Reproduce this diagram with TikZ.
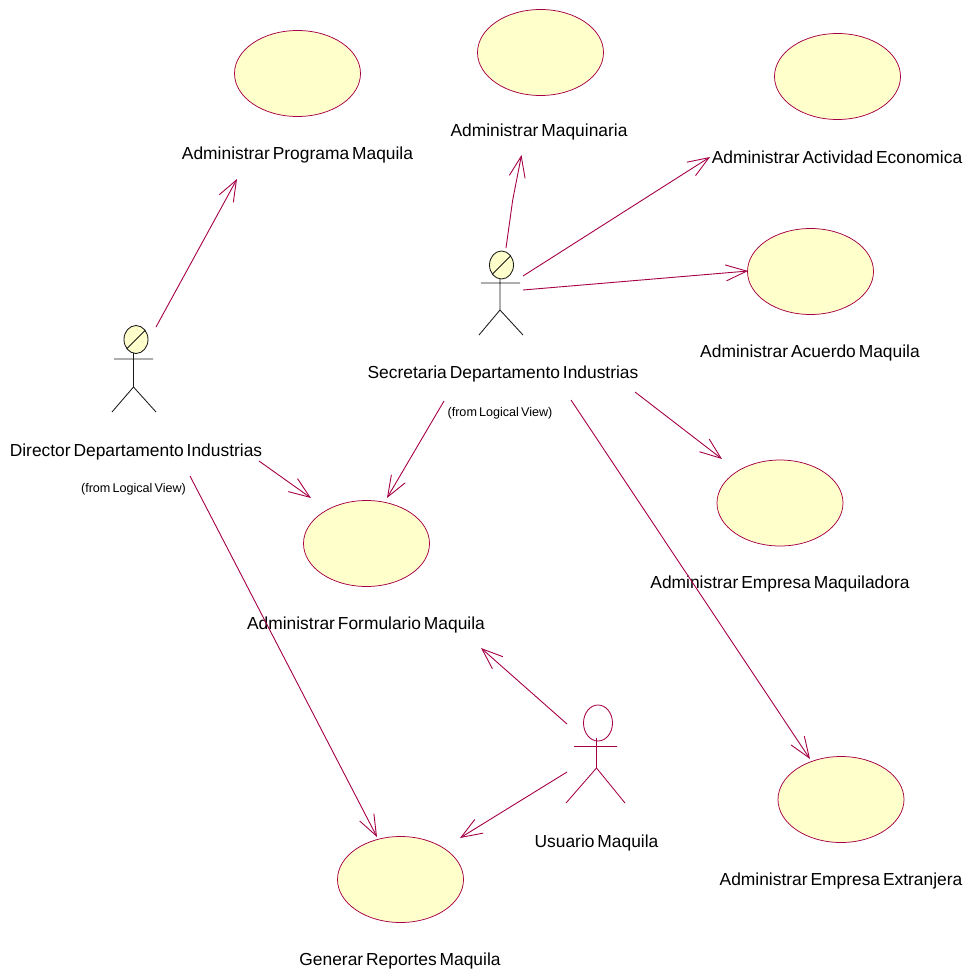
\documentclass[tikz,border=0pt]{standalone}
\usepackage{fontspec}
\setmainfont[WordSpace=0.6]{Liberation Sans}
\usetikzlibrary{arrows.meta,shapes.geometric}
\definecolor{conn}{RGB}{165,0,70}
\definecolor{fillc}{RGB}{255,255,204}
\definecolor{inkc}{RGB}{25,25,25}
\tikzset{
  usecase/.style={ellipse,draw=conn,fill=fillc,line width=0.75pt,minimum width=126bp,minimum height=86bp,inner sep=0pt},
  lbl/.style={font=\fontsize{17.4bp}{19bp}\selectfont,text=black,inner sep=0pt,anchor=center},
  small/.style={font=\fontsize{12.6bp}{14bp}\selectfont,text=black,inner sep=0pt,anchor=center},
  assoc/.style={draw=conn,line width=0.9pt,-{Straight Barb[length=21bp,width=16bp,line width=0.9pt]}},
  actorline/.style={draw=inkc,line width=0.85pt},
  actorlineU/.style={draw=conn,line width=0.85pt},
  actorhead/.style={ellipse,draw=inkc,fill=fillc,line width=0.85pt,minimum width=24bp,minimum height=28bp,inner sep=0pt},
}
\begin{document}
\begin{tikzpicture}[x=1bp,y=-1bp]
\useasboundingbox (0,0) rectangle (965,971);
\node[usecase] (uProg) at (297.5,73.5) {};
\node[usecase] (uMaq) at (540.5,52.5) {};
\node[usecase] (uAct) at (837.5,76.5) {};
\node[usecase] (uAcu) at (810.5,271.5) {};
\node[usecase] (uEmp) at (780,503) {};
\node[usecase] (uFor) at (366.5,543.5) {};
\node[usecase] (uExt) at (841,799.5) {};
\node[usecase] (uRep) at (400.5,879.5) {};
\node[lbl] (tProg) at (297.5,155) {Administrar Programa Maquila};
\node[lbl] (tMaq) at (539,132) {Administrar Maquinaria};
\node[lbl] (tAct) at (837,157) {Administrar Actividad Economica};
\node[lbl] (tAcu) at (810,353) {Administrar Acuerdo Maquila};
\node[lbl] (tEmp) at (780,584) {Administrar Empresa Maquiladora};
\node[lbl] (tFor) at (366,625) {Administrar Formulario Maquila};
\node[lbl] (tExt) at (841,881) {Administrar Empresa Extranjera};
\node[lbl] (tRep) at (400,961) {Generar Reportes Maquila};
\node[lbl] (tUsu) at (596.5,842.5) {Usuario Maquila};
\node[lbl] (tSec) at (503,374) {Secretaria Departamento Industrias};
\node[lbl] (tDir) at (136,452) {Director Departamento Industrias};
\node[small] (fSec) at (500,413.5) {(from Logical View)};
\node[small] (fDir) at (133.5,489.5) {(from Logical View)};
% Director actor
\node[actorhead] (hDir) at (136,339.5) {};
\draw[actorline] (hDir.225) -- (hDir.45);
\coordinate (dNeck) at (133.5,353); \coordinate (dHip) at (133.5,387);
\coordinate (dAl) at (114,359); \coordinate (dAr) at (153,359);
\coordinate (dLl) at (112,412); \coordinate (dLr) at (156,412);
\draw[actorline] (dNeck) -- (dHip) (dAl) -- (dAr) (dLl) -- (dHip) -- (dLr);
% Secretaria actor
\node[actorhead] (hSec) at (501.5,265) {};
\draw[actorline] (hSec.225) -- (hSec.45);
\coordinate (sNeck) at (500,279); \coordinate (sHip) at (500,310);
\coordinate (sAl) at (481,283); \coordinate (sAr) at (520,283);
\coordinate (sLl) at (479,335); \coordinate (sLr) at (523,335);
\draw[actorline] (sNeck) -- (sHip) (sAl) -- (sAr) (sLl) -- (sHip) -- (sLr);
% Usuario actor
\node[ellipse,draw=conn,line width=0.85pt,minimum width=29bp,minimum height=36bp,inner sep=0pt] (hUsu) at (598,723) {};
\coordinate (uNeck) at (596.5,738); \coordinate (uHip) at (596.5,768);
\coordinate (uAl) at (574,746.5); \coordinate (uAr) at (617,746.5);
\coordinate (uLl) at (566,803); \coordinate (uLr) at (625,803);
\draw[actorlineU] (uNeck) -- (uHip) (uAl) -- (uAr) (uLl) -- (uHip) -- (uLr);
% connector ends
\coordinate (a1) at (156,327); \coordinate (b1) at (237,179);
\coordinate (a2) at (506,248); \coordinate (m2) at (512.7,200); \coordinate (b2) at (521.5,155);
\coordinate (a3) at (523,276); \coordinate (b3) at (710,157);
\coordinate (a4) at (523,290); \coordinate (b4) at (748,271);
\coordinate (a5) at (635,392); \coordinate (b5) at (722,459);
\coordinate (a6) at (571,400); \coordinate (b6) at (810,759);
\coordinate (a7) at (444,401); \coordinate (b7) at (387,498);
\coordinate (a8) at (259,461); \coordinate (b8) at (311,498);
\coordinate (a9) at (190,476); \coordinate (b9) at (377,837);
\coordinate (a10) at (567,724); \coordinate (b10) at (481,648);
\coordinate (a11) at (567,772); \coordinate (b11) at (460,838);
\foreach \i in {1,3,4,5,6,7,8,9,10,11} {\draw[assoc] (a\i) -- (b\i);}
\draw[assoc] (a2) -- (m2) -- (b2);
\end{tikzpicture}
\end{document}
